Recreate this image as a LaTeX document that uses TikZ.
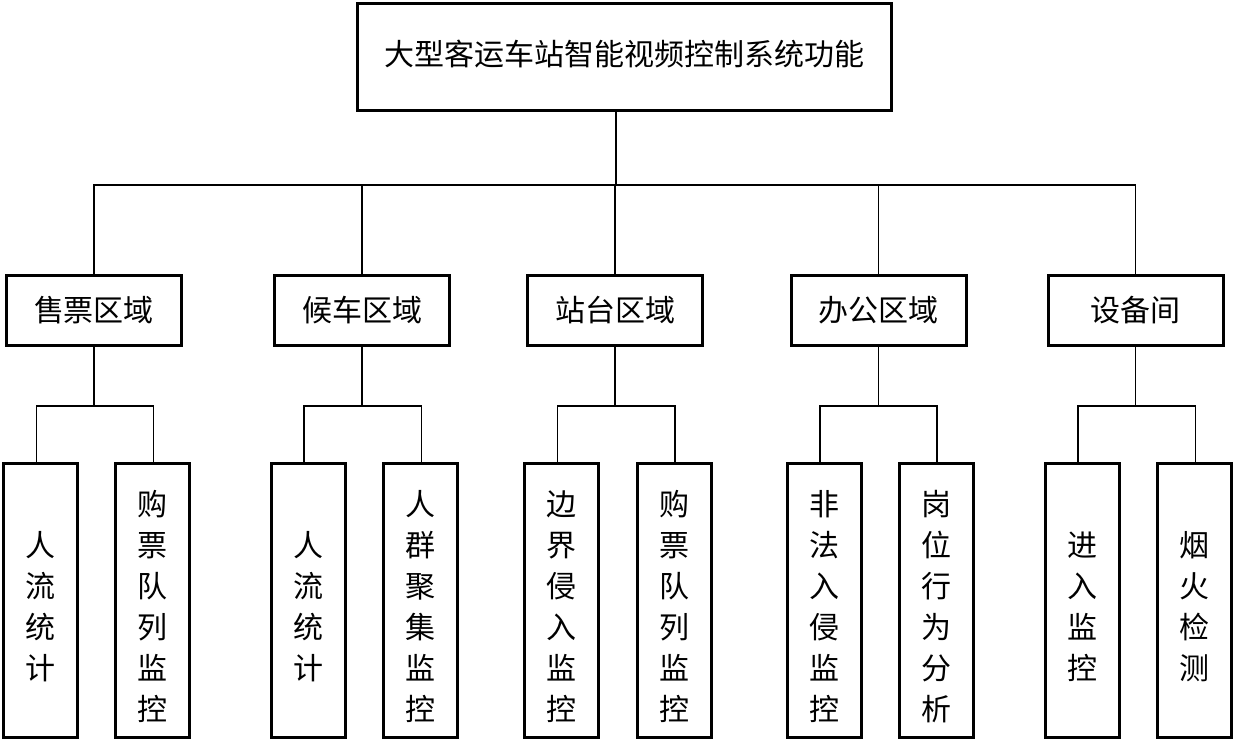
\documentclass[tikz,border=0pt]{standalone}
\usepackage{fontspec}
\newfontfamily\cjk{Noto Sans CJK SC}
\newcommand{\vtext}[1]{\raisebox{-16pt}[0pt][0pt]{\begin{tabular}{@{}c@{}}#1\end{tabular}}}
\begin{document}
\begin{tikzpicture}[x=1pt,y=-1pt,
  box/.style={draw=black,line width=3pt,rectangle,inner sep=0pt,align=center,font=\cjk\fontsize{30}{41}\selectfont},
  topbox/.style={box,minimum width=534pt,minimum height=107pt},
  midbox/.style={box,minimum width=175pt,minimum height=70pt},
  leafbox/.style={box,minimum width=74pt,minimum height=274pt},
  conn/.style={draw=black,line width=1.4pt}]
\useasboundingbox (0,0) rectangle (1234,742);
\node[topbox] (top) at (624.5,57) {\raisebox{-8pt}[0pt][0pt]{大型客运车站智能视频控制系统功能}};
\node[midbox] (pA) at (94,310.5) {售票区域};
\node[midbox] (pB) at (362,310.5) {候车区域};
\node[midbox] (pC) at (615,310.5) {站台区域};
\node[midbox] (pD) at (878.5,310.5) {办公区域};
\node[midbox] (pE) at (1135.5,310.5) {设备间};
\node[leafbox] (a1) at (40.5,600.5) {\vtext{人\\流\\统\\计}};
\node[leafbox] (a2) at (152.5,600.5) {\vtext{购\\票\\队\\列\\监\\控}};
\node[leafbox] (b1) at (308,600.5) {\vtext{人\\流\\统\\计}};
\node[leafbox] (b2) at (420.5,600.5) {\vtext{人\\群\\聚\\集\\监\\控}};
\node[leafbox] (c1) at (561.5,600.5) {\vtext{边\\界\\侵\\入\\监\\控}};
\node[leafbox] (c2) at (674,600.5) {\vtext{购\\票\\队\\列\\监\\控}};
\node[leafbox] (d1) at (824,600.5) {\vtext{非\\法\\入\\侵\\监\\控}};
\node[leafbox] (d2) at (936,600.5) {\vtext{岗\\位\\行\\为\\分\\析}};
\node[leafbox] (e1) at (1082,600.5) {\vtext{进\\入\\监\\控}};
\node[leafbox] (e2) at (1194.5,600.5) {\vtext{烟\\火\\检\\测}};
\coordinate (topbus) at (616,185);
\coordinate (busA) at (94,406);
\coordinate (busB) at (362,406);
\coordinate (busC) at (615,406);
\coordinate (busD) at (878.5,406);
\coordinate (busE) at (1135.5,406);
\draw[conn] (top.south -| topbus) -- (topbus);
\draw[conn] (pA.north) |- (topbus) -| (pE.north);
\draw[conn] (pB.north) -- (pB.north |- topbus);
\draw[conn] (pC.north) -- (pC.north |- topbus);
\draw[conn] (pD.north) -- (pD.north |- topbus);
\draw[conn] (pA.south) -- (busA);
\draw[conn] (pB.south) -- (busB);
\draw[conn] (pC.south) -- (busC);
\draw[conn] (pD.south) -- (busD);
\draw[conn] (pE.south) -- (busE);
\draw[conn] ([xshift=-4pt]a1.north) |- (busA) -| ([xshift=1pt]a2.north);
\draw[conn] ([xshift=-4pt]b1.north) |- (busB) -| ([xshift=1pt]b2.north);
\draw[conn] ([xshift=-4pt]c1.north) |- (busC) -| ([xshift=1pt]c2.north);
\draw[conn] ([xshift=-4pt]d1.north) |- (busD) -| ([xshift=1pt]d2.north);
\draw[conn] ([xshift=-4pt]e1.north) |- (busE) -| ([xshift=1pt]e2.north);
\end{tikzpicture}
\end{document}
